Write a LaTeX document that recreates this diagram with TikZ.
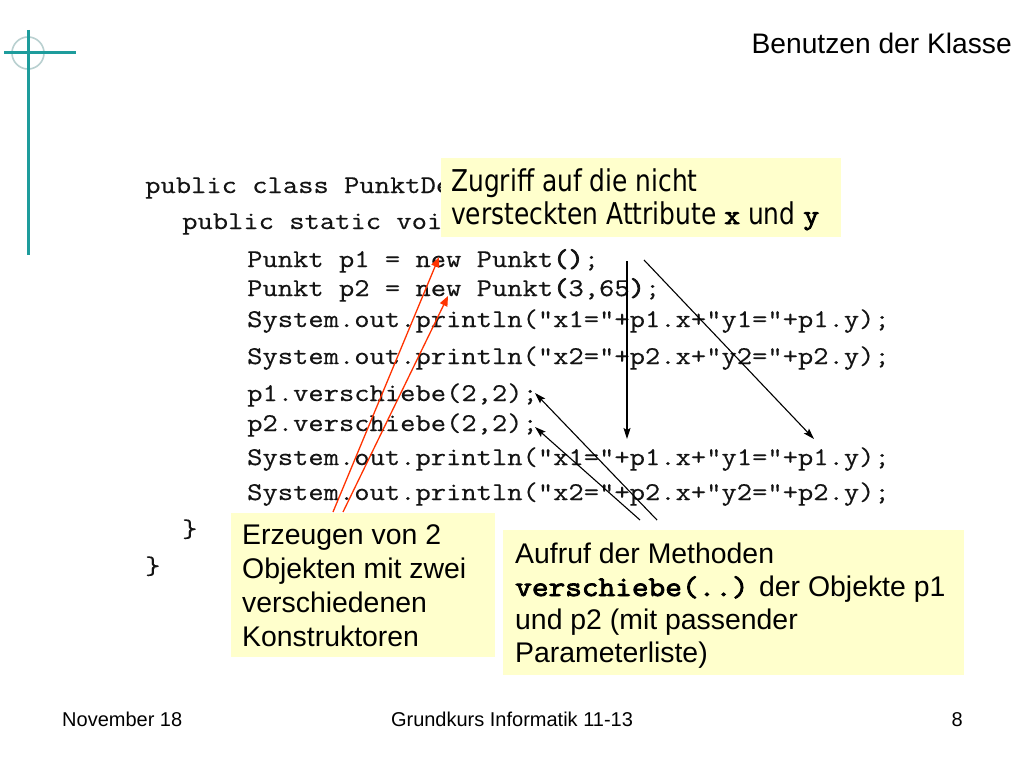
\documentclass[tikz,border=0pt]{standalone}
\usepackage{fontspec}
\setmainfont{Liberation Sans}
\newfontfamily\codefont[FakeStretch=1.165,FakeBold=0.4]{Latin Modern Mono}
\newfontfamily\codeparen[FakeStretch=1.165,FakeBold=3]{Latin Modern Mono}
\newfontfamily\codebold[FakeStretch=1.14,FakeBold=3]{Latin Modern Mono}
\newfontfamily\narrowfont[FakeStretch=0.83]{DejaVu Sans}
\usetikzlibrary{arrows.meta}
\definecolor{teal1}{RGB}{30,156,156}
\definecolor{ring}{RGB}{185,208,208}
\definecolor{noteyellow}{RGB}{255,255,204}
\definecolor{arrred}{RGB}{255,51,0}
\definecolor{ink}{RGB}{20,20,20}
\newcommand{\bparen}[1]{{\codeparen #1}}
\begin{document}
\begin{tikzpicture}[x=1pt,y=-1pt,
  codeline/.style={anchor=base west,inner sep=0pt,text=ink,font=\codefont\fontsize{25.5pt}{30pt}\selectfont},
  note/.style={fill=noteyellow,draw=none},
  notetext/.style={anchor=base west,inner sep=0pt,text=black,font=\fontsize{28.4pt}{34pt}\selectfont},
  toptext/.style={anchor=base west,inner sep=0pt,text=black,font=\narrowfont\fontsize{30pt}{34pt}\selectfont},
  redarrow/.style={draw=arrred,line width=1.3pt,-{Triangle[length=10pt,width=8pt]}},
  blackarrow/.style={draw=black,line width=1.1pt,-{Stealth[length=11pt,width=7pt,inset=2pt]}},
  foot/.style={inner sep=0pt,anchor=base,font=\fontsize{20pt}{24pt}\selectfont}
]
\useasboundingbox[fill=white] (0,0) rectangle (1024,768);

% logo
\draw[ring,line width=1.6pt] (28,53) circle (16);
\draw[teal1,line width=3pt] (28,30) -- (28,255);
\draw[teal1,line width=3pt] (4,53) -- (76,53);

% title
\node[anchor=base east,inner sep=0pt,font=\fontsize{28.2pt}{32pt}\selectfont] (title) at (1012,54) {Benutzen der Klasse};

% code
\node[codeline] (c1) at (145,193) {public class PunktDe};
\node[codeline] (c2) at (182,229) {public static voi};
\node[codeline] (c3) at (247,267) {Punkt p1 = new Punkt\bparen{()};};
\node[codeline] (c4) at (247,296) {Punkt p2 = new Punkt\bparen{(}3,65\bparen{)};};
\node[codeline] (c5) at (247,327) {System.out.println("x1="+p1.x+"y1="+p1.y);};
\node[codeline] (c6) at (247,364) {System.out.println("x2="+p2.x+"y2="+p2.y);};
\node[codeline] (c7) at (247,401) {p1.verschiebe(2,2);};
\node[codeline] (c8) at (247,431) {p2.verschiebe(2,2);};
\node[codeline] (c9) at (247,465) {System.out.println("x1="+p1.x+"y1="+p1.y);};
\node[codeline] (c10) at (247,500) {System.out.println("x2="+p2.x+"y2="+p2.y);};
\node[codeline] (b1) at (182,537) {\}};
\node[codeline] (b2) at (145,574) {\}};

% top note
\path[note] (441,158) rectangle (841,237);
\node[toptext] (n1a) at (451,191) {Zugriff auf die nicht};
\node[toptext] (n1b) at (451,224) {versteckten Attribute {\codebold\fontsize{27pt}{30pt}\selectfont x} und {\codebold\fontsize{27pt}{30pt}\selectfont y}};

% bottom notes
\path[note] (231,513) rectangle (495,657);
\node[notetext] (n2a) at (242,544) {Erzeugen von 2};
\node[notetext] (n2b) at (242,578) {Objekten mit zwei};
\node[notetext] (n2c) at (242,612) {verschiedenen};
\node[notetext] (n2d) at (242,646) {Konstruktoren};

\path[note] (503,530) rectangle (964,675);
\node[notetext] (n3a) at (515,563) {Aufruf der Methoden};
\node[notetext] (n3b) at (515,596) {{\codebold verschiebe(..)} der Objekte p1};
\node[notetext] (n3c) at (515,629) {und p2 (mit passender};
\node[notetext] (n3d) at (515,662) {Parameterliste)};

% connector end points
\coordinate (r1s) at (333,512);
\coordinate (r1e) at (439,257);
\coordinate (r2s) at (343,512);
\coordinate (r2e) at (448,296);
\coordinate (v1s) at (627,261);
\coordinate (v1e) at (627,439);
\coordinate (d1s) at (644,260);
\coordinate (d1e) at (814,439);
\coordinate (m1s) at (657,520);
\coordinate (m1e) at (535,393);
\coordinate (m2s) at (640,520);
\coordinate (m2e) at (535,427);

\draw[redarrow] (r1s) -- (r1e);
\draw[redarrow] (r2s) -- (r2e);
\draw[blackarrow] (v1s) -- (v1e);
\draw[blackarrow] (d1s) -- (d1e);
\draw[blackarrow] (m1s) -- (m1e);
\draw[blackarrow] (m2s) -- (m2e);

% footer
\node[foot,anchor=base west] (f1) at (62,726) {November 18};
\node[foot] (f2) at (512,726) {Grundkurs Informatik 11-13};
\node[foot,anchor=base east] (f3) at (963,726) {8};
\end{tikzpicture}
\end{document}
